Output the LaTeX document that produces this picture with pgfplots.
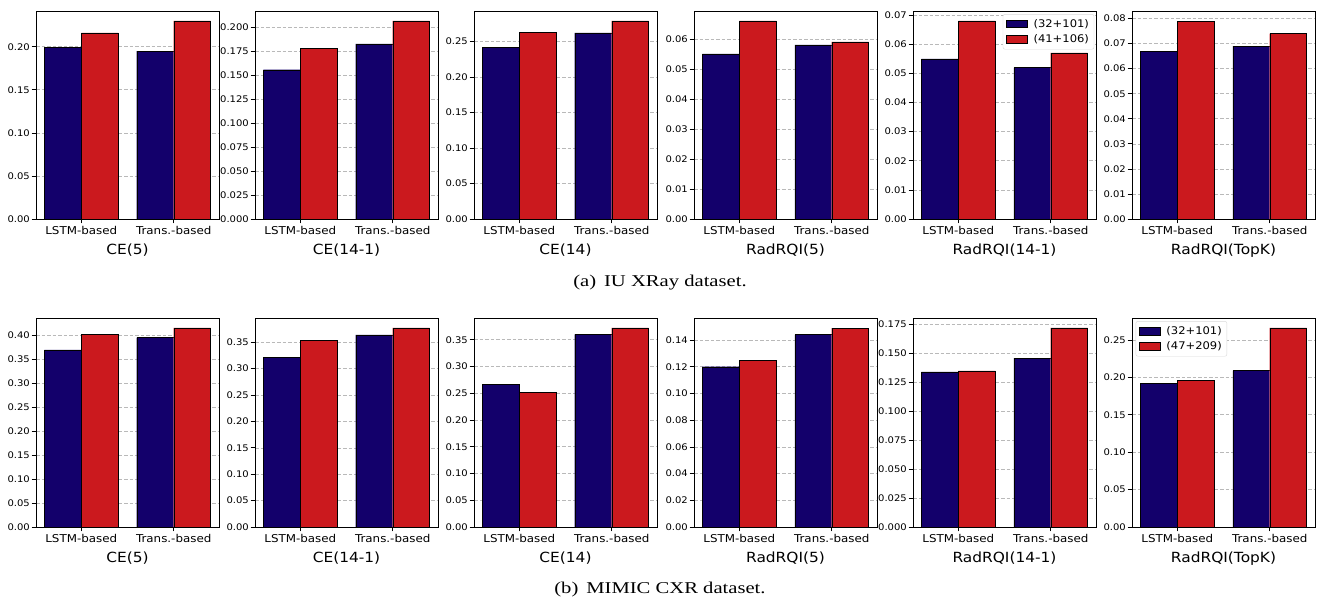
\documentclass[border=0pt]{standalone}
\usepackage{fontspec}
\usepackage{pgfplots}
\pgfplotsset{compat=1.18}
\newfontfamily\djv[FakeStretch=1.1]{DejaVu Sans}
\newfontfamily\capfont[FakeStretch=1.25]{Liberation Serif}
\definecolor{cblue}{RGB}{19,0,107}
\definecolor{cred}{RGB}{203,25,30}
\pgfplotsset{
  panel/.style={
    scale only axis, width=183pt, anchor=south west,
    ybar, bar width=0.4, bar shift=0pt, ymin=0, xmin=-0.49, xmax=1.49,
    xtick={0,1}, xticklabels={LSTM-based,Trans.-based},
    ymajorgrids, grid style={dash pattern=on 3.5pt off 2pt, gray!55, line width=0.6pt},
    axis line style={black, line width=0.8pt},
    tick style={black, line width=0.7pt}, tick align=outside, major tick length=4.5pt,
    xtick pos=bottom, ytick pos=left,
    scaled y ticks=false,
    /pgf/number format/assume math mode=true,
    yticklabel style={font=\djv\fontsize{9.1}{10}\selectfont, /pgf/number format/fixed, /pgf/number format/fixed zerofill, /pgf/number format/precision=2, inner sep=1.5pt},
    xticklabel style={font=\djv\fontsize{10.8}{12}\selectfont, inner sep=2pt, yshift=-1pt},
    xlabel style={font=\djv\fontsize{14}{15}\selectfont, inner sep=0pt, yshift=-7pt},
    legend image code/.code={\draw[#1, draw=black, line width=0.7pt, sharp corners] (0pt,-3.8pt) rectangle (21pt,3.8pt); \path (25pt,0pt);},
    legend style={font=\djv\fontsize{10.5}{12}\selectfont, draw=black!15, rounded corners=2pt, fill=white, inner sep=3pt, row sep=2pt},
  },
  prec3/.style={yticklabel style={/pgf/number format/precision=3}},
  toprow/.style={height=208pt},
  botrow/.style={height=209pt},
}
\begin{document}
\begin{tikzpicture}[x=1pt,y=1pt]
\path[use as bounding box] (0,0) rectangle (1320,601);
% ---------- (a) IU XRay ----------
\begin{axis}[panel, toprow, at={(36pt,382pt)}, ymax=0.2415, ytick distance=0.05, xlabel={CE(5)}]
\addplot[fill=cblue, bar shift=0pt] coordinates {(-0.2,0.199) (0.8,0.195)};
\addplot[fill=cred, bar shift=0pt] coordinates {(0.2,0.216) (1.2,0.230)};
\end{axis}
\begin{axis}[panel, toprow, prec3, at={(255pt,382pt)}, ymax=0.2174, ytick distance=0.025, xlabel={CE(14-1)}]
\addplot[fill=cblue, bar shift=0pt] coordinates {(-0.2,0.156) (0.8,0.183)};
\addplot[fill=cred, bar shift=0pt] coordinates {(0.2,0.178) (1.2,0.207)};
\end{axis}
\begin{axis}[panel, toprow, at={(474pt,382pt)}, ymax=0.2930, ytick distance=0.05, xlabel={CE(14)}]
\addplot[fill=cblue, bar shift=0pt] coordinates {(-0.2,0.242) (0.8,0.262)};
\addplot[fill=cred, bar shift=0pt] coordinates {(0.2,0.263) (1.2,0.279)};
\end{axis}
\begin{axis}[panel, toprow, at={(694pt,382pt)}, ymax=0.0693, ytick distance=0.01, xlabel={RadRQI(5)}]
\addplot[fill=cblue, bar shift=0pt] coordinates {(-0.2,0.055) (0.8,0.058)};
\addplot[fill=cred, bar shift=0pt] coordinates {(0.2,0.066) (1.2,0.059)};
\end{axis}
\begin{axis}[panel, toprow, at={(913pt,382pt)}, ymax=0.0714, ytick distance=0.01, xlabel={RadRQI(14-1)},
  legend style={at={(0.99,0.985)}, anchor=north east}]
\addplot[fill=cblue, bar shift=0pt] coordinates {(-0.2,0.055) (0.8,0.052)};
\addplot[fill=cred, bar shift=0pt] coordinates {(0.2,0.068) (1.2,0.057)};
\legend{(32+101),(41+106)}
\end{axis}
\begin{axis}[panel, toprow, at={(1132pt,382pt)}, ymax=0.0830, ytick distance=0.01, xlabel={RadRQI(TopK)}]
\addplot[fill=cblue, bar shift=0pt] coordinates {(-0.2,0.067) (0.8,0.069)};
\addplot[fill=cred, bar shift=0pt] coordinates {(0.2,0.079) (1.2,0.074)};
\end{axis}
\node[font=\capfont\fontsize{16.5}{18}\selectfont] at (660,318) {(a)\, IU XRay dataset.};
% ---------- (b) MIMIC CXR ----------
\begin{axis}[panel, botrow, at={(36pt,74pt)}, ymax=0.4368, ytick distance=0.05, xlabel={CE(5)}]
\addplot[fill=cblue, bar shift=0pt] coordinates {(-0.2,0.370) (0.8,0.396)};
\addplot[fill=cred, bar shift=0pt] coordinates {(0.2,0.403) (1.2,0.416)};
\end{axis}
\begin{axis}[panel, botrow, at={(255pt,74pt)}, ymax=0.3959, ytick distance=0.05, xlabel={CE(14-1)}]
\addplot[fill=cblue, bar shift=0pt] coordinates {(-0.2,0.322) (0.8,0.364)};
\addplot[fill=cred, bar shift=0pt] coordinates {(0.2,0.353) (1.2,0.377)};
\end{axis}
\begin{axis}[panel, botrow, at={(474pt,74pt)}, ymax=0.3906, ytick distance=0.05, xlabel={CE(14)}]
\addplot[fill=cblue, bar shift=0pt] coordinates {(-0.2,0.266) (0.8,0.360)};
\addplot[fill=cred, bar shift=0pt] coordinates {(0.2,0.251) (1.2,0.372)};
\end{axis}
\begin{axis}[panel, botrow, at={(694pt,74pt)}, ymax=0.1565, ytick distance=0.02, xlabel={RadRQI(5)}]
\addplot[fill=cblue, bar shift=0pt] coordinates {(-0.2,0.120) (0.8,0.144)};
\addplot[fill=cred, bar shift=0pt] coordinates {(0.2,0.125) (1.2,0.149)};
\end{axis}
\begin{axis}[panel, botrow, prec3, at={(913pt,74pt)}, ymax=0.1806, ytick distance=0.025, xlabel={RadRQI(14-1)}]
\addplot[fill=cblue, bar shift=0pt] coordinates {(-0.2,0.134) (0.8,0.146)};
\addplot[fill=cred, bar shift=0pt] coordinates {(0.2,0.135) (1.2,0.172)};
\end{axis}
\begin{axis}[panel, botrow, at={(1132pt,74pt)}, ymax=0.2793, ytick distance=0.05, xlabel={RadRQI(TopK)},
  legend style={at={(0.02,0.985)}, anchor=north west}]
\addplot[fill=cblue, bar shift=0pt] coordinates {(-0.2,0.192) (0.8,0.209)};
\addplot[fill=cred, bar shift=0pt] coordinates {(0.2,0.196) (1.2,0.266)};
\legend{(32+101),(47+209)}
\end{axis}
\node[font=\capfont\fontsize{16.5}{18}\selectfont] at (660,11) {(b)\, MIMIC CXR dataset.};
\end{tikzpicture}
\end{document}
